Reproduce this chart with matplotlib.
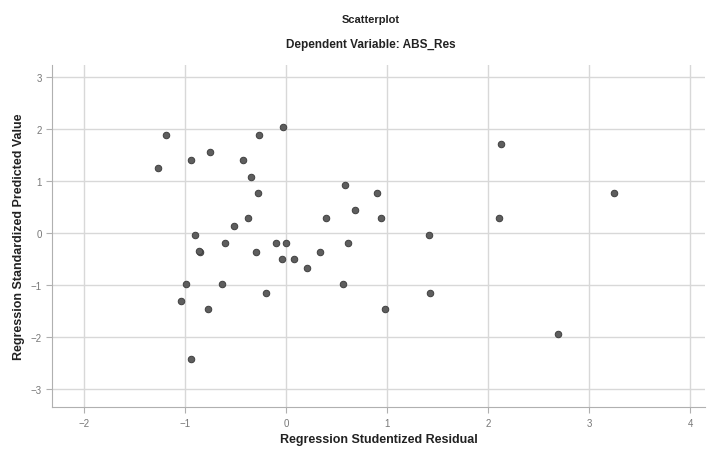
import numpy as np
import matplotlib
matplotlib.use("Agg")
import matplotlib.pyplot as plt

plt.rcParams['font.family'] = ['Liberation Sans', 'DejaVu Sans']

# studentized residual (x) vs standardized predicted value (y)
resid = [-1.19, -0.27, -0.03, -0.76, -0.94, -0.43, -1.27, -0.35, 0.58, -0.28,
         0.68, 0.39, -0.38, -0.52, -0.90, -0.61, -0.10, 0.00, 0.61, -0.85,
         -0.86, -0.30, 0.33, -0.04, 0.08, 0.21, -0.99, -0.64, 0.56, -0.20,
         -1.04, -0.78, -0.94, 2.13, 0.90, 0.94, 2.11, 3.25, 1.41, 1.42,
         0.98, 2.69]
pred = [1.88, 1.88, 2.03, 1.56, 1.40, 1.40, 1.24, 1.07, 0.92, 0.76,
        0.45, 0.29, 0.29, 0.13, -0.03, -0.20, -0.20, -0.20, -0.20, -0.36,
        -0.35, -0.36, -0.36, -0.51, -0.51, -0.67, -0.99, -0.99, -0.99, -1.15,
        -1.31, -1.47, -2.42, 1.72, 0.76, 0.29, 0.29, 0.76, -0.03, -1.15,
        -1.47, -1.95]

xticks = [-2, -1, 0, 1, 2, 3, 4]
yticks = [-3, -2, -1, 0, 1, 2, 3]

fig = plt.figure(figsize=(7.13, 4.52), dpi=100)
ax = fig.add_axes([0.073, 0.097, 0.916, 0.757])

ax.scatter(resid, pred, s=22, c='#5e5e5e', edgecolors='#404040',
           linewidths=0.7, zorder=3)

ax.set_xlim(-2.32, 4.15)
ax.set_ylim(-3.35, 3.23)
ax.set_xticks(xticks)
ax.set_yticks(yticks)
ax.grid(True, color='#d8d8d8', linewidth=1.0)
ax.set_axisbelow(True)

for side in ['top', 'right']:
    ax.spines[side].set_visible(False)
for side in ['left', 'bottom']:
    ax.spines[side].set_color('#b0b0b0')
ax.tick_params(colors='#b0b0b0', labelcolor='#777777', labelsize=7, length=4)

ax.set_xlabel('Regression Studentized Residual', fontsize=9,
              fontweight='bold', color='#222222', labelpad=4)
ax.set_ylabel('Regression Standardized Predicted Value', fontsize=9,
              fontweight='bold', color='#222222', labelpad=4)

fig.text(0.52, 0.955, 'Scatterplot', ha='center', va='center',
         fontsize=8, fontweight='bold', color='#222222')
fig.text(0.52, 0.9, 'Dependent Variable: ABS_Res', ha='center', va='center',
         fontsize=8.5, fontweight='bold', color='#222222')

fig.savefig('out.png', dpi=100)
